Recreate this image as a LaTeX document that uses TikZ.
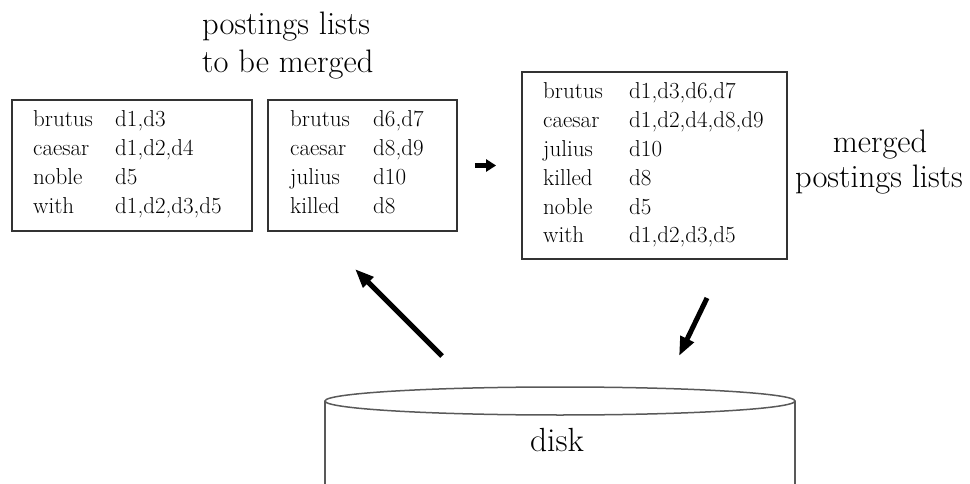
\documentclass[tikz,border=0pt]{standalone}
\usetikzlibrary{arrows.meta}
\begin{document}
\begin{tikzpicture}[x=1pt,y=-1pt,
  listbox/.style={draw=black!80, line width=1.8pt, rectangle, inner sep=0pt},
  entry/.style={anchor=base west, inner sep=0pt, font=\fontsize{23}{23}\selectfont},
  caption/.style={inner sep=0pt, font=\fontsize{32.5}{36}\selectfont},
  bigarrow/.style={line width=5pt, -{Triangle[length=19pt,width=14pt]}},
  smallarrow/.style={line width=5pt, -{Triangle[length=10pt,width=12pt]}},
  diskline/.style={draw=black!65, line width=1.5pt}]
\useasboundingbox (0,0) rectangle (970,484);

% captions
\node[caption, anchor=base west] (capA1) at (202,35) {postings lists};
\node[caption, anchor=base west] (capA2) at (202,73) {to be merged};
\node[caption, anchor=base] (capB1) at (880,153) {merged};
\node[caption, anchor=base] (capB2) at (879,188) {postings lists};

% the three postings boxes
\node[listbox, minimum width=240pt, minimum height=131pt] (first) at (132,165.5) {};
\node[listbox, minimum width=189pt, minimum height=131pt] (second) at (362.5,165.5) {};
\node[listbox, minimum width=265pt, minimum height=187pt] (merged) at (654.5,165.5) {};

% entries of the first list
\foreach \w/\p [count=\i] in {brutus/{d1,d3}, caesar/{d1,d2,d4}, noble/{d5}, with/{d1,d2,d3,d5}} {
  \node[entry] (fw\i) at (33,{127+29*(\i-1)}) {\w};
  \node[entry] (fp\i) at (115,{127+29*(\i-1)}) {\p};
}
% entries of the second list
\foreach \w/\p [count=\i] in {brutus/{d6,d7}, caesar/{d8,d9}, julius/{d10}, killed/{d8}} {
  \node[entry] (sw\i) at (290,{127+29*(\i-1)}) {\w};
  \node[entry] (sp\i) at (373,{127+29*(\i-1)}) {\p};
}
% entries of the merged list
\foreach \w/\p [count=\i] in {brutus/{d1,d3,d6,d7}, caesar/{d1,d2,d4,d8,d9}, julius/{d10}, killed/{d8}, noble/{d5}, with/{d1,d2,d3,d5}} {
  \node[entry] (mw\i) at (543,{99+28.8*(\i-1)}) {\w};
  \node[entry] (mp\i) at (629,{99+28.8*(\i-1)}) {\p};
}

% merge arrow
\draw[smallarrow, shorten <=17pt, shorten >=25pt] (second) -- (merged);

% disk
\draw[diskline] (560,401) ellipse [x radius=235pt, y radius=14pt];
\draw[diskline] (325,401) -- (325,484);
\draw[diskline] (795,401) -- (795,484);
\node[caption, anchor=base, font=\fontsize{33.5}{36}\selectfont] (disk) at (557,451) {disk};

% reading from and writing to disk
\coordinate (readfrom) at (442,356);
\coordinate (readto) at (355,269);
\coordinate (writefrom) at (707,298);
\coordinate (writeto) at (679,356);
\draw[bigarrow] (readfrom) -- (readto);
\draw[bigarrow] (writefrom) -- (writeto);
\end{tikzpicture}
\end{document}
